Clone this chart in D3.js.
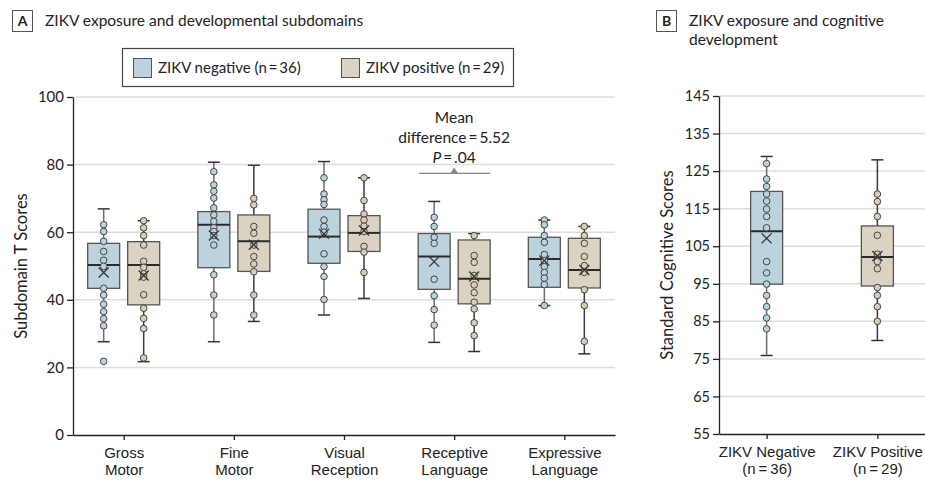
<!DOCTYPE html>
<html>
<head>
<meta charset="utf-8">
<script src="https://cdn.jsdelivr.net/npm/d3@7"></script>
<style>
  body { margin: 0; background: #fff; }
  svg { font-family: Lato, "Noto Sans", sans-serif; }
</style>
</head>
<body>
<div id="chart"></div>
<script>
// Data
// =================================
var categories = ["Gross Motor", "Fine Motor", "Visual Reception", "Receptive Language", "Expressive Language"];
var groups = ["neg", "pos"];

// [low whisker, Q1, median, Q3, high whisker, mean]
var negBox = [
  [27.6, 43.4, 50.3, 56.7, 66.9, 48.1],
  [27.6, 49.5, 62.2, 66.1, 80.7, 59.0],
  [35.5, 50.8, 58.7, 66.8, 80.9, 59.5],
  [27.4, 43.1, 52.8, 59.6, 69.1, 51.3],
  [38.3, 43.7, 52.1, 58.5, 63.6, 51.6]
];
var posBox = [
  [21.7, 38.5, 50.3, 57.2, 63.4, 47.2],
  [33.6, 48.4, 57.3, 65.1, 79.8, 56.3],
  [40.4, 54.3, 59.8, 64.9, 76.1, 60.5],
  [24.7, 38.8, 46.2, 57.7, 59.6, 46.9],
  [24.0, 43.5, 48.8, 58.2, 61.7, 48.8]
];

var negPoints = [
  [62.2, 60.2, 57.3, 54.3, 51.7, 49.9, 43.4, 41.4, 38.7, 36.5, 34.4, 32.3, 21.8],
  [77.9, 74.0, 72.1, 70.1, 67.2, 65.1, 63.2, 61.3, 60.2, 59.0, 56.2, 47.4, 41.4, 35.5],
  [76.1, 71.3, 69.6, 68.2, 63.6, 61.7, 60.0, 53.6, 49.8, 46.9, 40.1],
  [64.4, 61.7, 58.5, 56.7, 46.1, 41.2, 37.1, 32.5],
  [63.6, 62.2, 59.0, 57.0, 53.4, 51.6, 49.8, 48.1, 46.4, 44.5, 38.3]
];
var posPoints = [
  [63.4, 61.3, 59.0, 56.2, 51.4, 49.6, 47.7, 46.7, 41.5, 37.5, 34.5, 31.5, 22.8],
  [70.0, 68.1, 61.7, 59.7, 56.2, 52.8, 50.6, 48.3, 41.4, 35.5],
  [76.1, 69.4, 65.4, 63.6, 61.8, 60.2, 55.8, 54.1, 48.1],
  [59.0, 53.1, 51.1, 47.2, 44.4, 42.1, 39.3, 37.3, 33.2, 29.4],
  [61.7, 59.0, 56.7, 52.8, 50.1, 48.1, 43.0, 38.3, 27.7]
];

var yTicksA = [0, 20, 40, 60, 80, 100];

// panel B
var cogCategories = ["ZIKV Negative|(n\u2009=\u200936)", "ZIKV Positive|(n\u2009=\u200929)"];
var cogNegBox = [75.9, 94.9, 109.0, 119.6, 128.9, 107.1];
var cogPosBox = [79.9, 94.4, 102.1, 110.4, 128.0, 102.4];
var cogNegPoints = [127.0, 122.9, 120.9, 118.9, 117.0, 114.9, 112.9, 109.9, 100.9, 97.9, 94.9, 91.9, 88.9, 85.9, 83.0];
var cogPosPoints = [118.9, 116.9, 112.9, 107.9, 102.9, 100.9, 99.0, 94.0, 91.9, 88.9, 85.0];
var yTicksB = [55, 65, 75, 85, 95, 105, 115, 125, 135, 145];

var legendLabels = ["ZIKV negative (n\u2009=\u200936)", "ZIKV positive (n\u2009=\u200929)"];

// Style
// =================================
var fills = { neg: "#bcd2dc", pos: "#dbd3c2" };
var dotFills = { neg: "#b8d2de", pos: "#d8cdb6" };
var stemColor = { neg: "#6e6e6e", pos: "#3a3a3a" };
var boxW = 32;

var svgWidth = 925;
var svgHeight = 480;

var svg = d3.select("#chart")
  .append("svg")
  .attr("width", svgWidth)
  .attr("height", svgHeight);

// Panel A
// =================================
var marginA = { top: 97, left: 73, right: 310, bottom: 45 };
var wA = svgWidth - marginA.left - marginA.right;
var hA = svgHeight - marginA.top - marginA.bottom;

var gA = svg.append("g").attr("transform", `translate(${marginA.left}, ${marginA.top})`);

var yA = d3.scaleLinear().domain([0, 100]).range([hA, 0]);
var xA = d3.scalePoint().domain(categories).range([0, wA]).padding(0.46);
var xGroup = d3.scaleBand().domain(groups).range([-40, 40]);

// grid
gA.selectAll(".grid")
  .data(yTicksA.slice(1))
  .enter()
  .append("line")
  .attr("x1", 0).attr("x2", wA)
  .attr("y1", d => yA(d)).attr("y2", d => yA(d))
  .attr("stroke", "#dedede")
  .attr("stroke-width", 1.5);

function styleAxis(g) {
  g.select(".domain").attr("stroke", "#222").attr("stroke-width", 1.3);
  g.selectAll(".tick line").attr("stroke", "#222").attr("stroke-width", 1.3);
  g.selectAll("text").attr("fill", "#222").attr("font-family", "Lato, sans-serif");
}

var yAxisA = gA.append("g")
  .call(d3.axisLeft(yA).tickValues(yTicksA).tickSize(6).tickPadding(3).tickSizeOuter(0));
styleAxis(yAxisA);
yAxisA.selectAll("text").attr("font-size", 15);

var xAxisA = gA.append("g")
  .attr("transform", `translate(0, ${hA})`)
  .call(d3.axisBottom(xA).tickSize(5).tickSizeOuter(0));
styleAxis(xAxisA);
xAxisA.selectAll("text").remove();
xAxisA.selectAll(".tick").append("text")
  .attr("fill", "#222")
  .attr("font-size", 15)
  .attr("text-anchor", "middle")
  .selectAll("tspan")
  .data(d => d.split(" "))
  .enter()
  .append("tspan")
  .attr("x", 0)
  .attr("y", (d, i) => 23 + i * 17)
  .text(d => d);

gA.append("text")
  .attr("transform", "rotate(-90)")
  .attr("x", -hA / 2)
  .attr("y", 27 - marginA.left)
  .attr("text-anchor", "middle")
  .attr("font-size", 16.5)
  .attr("fill", "#222")
  .text("Subdomain T Scores");

// draws one box plot centred at cx
function drawBox(g, y, cx, s, pts, grp) {
  var b = g.append("g");
  b.append("line")
    .attr("x1", cx).attr("x2", cx)
    .attr("y1", y(s[0])).attr("y2", y(s[4]))
    .attr("stroke", stemColor[grp]).attr("stroke-width", 1.5);
  [s[0], s[4]].forEach(function(v) {
    b.append("line")
      .attr("x1", cx - 6).attr("x2", cx + 6)
      .attr("y1", y(v)).attr("y2", y(v))
      .attr("stroke", "#333").attr("stroke-width", 1.5);
  });
  b.append("rect")
    .attr("x", cx - boxW / 2)
    .attr("y", y(s[3]))
    .attr("width", boxW)
    .attr("height", y(s[1]) - y(s[3]))
    .attr("fill", fills[grp])
    .attr("stroke", "#555")
    .attr("stroke-width", 1.3);
  b.append("line")
    .attr("x1", cx - boxW / 2).attr("x2", cx + boxW / 2)
    .attr("y1", y(s[2])).attr("y2", y(s[2]))
    .attr("stroke", "#2a2a2a").attr("stroke-width", 2);
  b.selectAll("circle")
    .data(pts)
    .enter()
    .append("circle")
    .attr("cx", cx)
    .attr("cy", d => y(d))
    .attr("r", 3.3)
    .attr("fill", dotFills[grp])
    .attr("stroke", "#444")
    .attr("stroke-width", 1);
  var my = y(s[5]);
  b.append("path")
    .attr("d", `M${cx - 5},${my - 5}L${cx + 5},${my + 5}M${cx - 5},${my + 5}L${cx + 5},${my - 5}`)
    .attr("stroke", "#333")
    .attr("stroke-width", 1.3)
    .attr("fill", "none");
}

categories.forEach(function(c, i) {
  drawBox(gA, yA, xA(c) + xGroup("neg") + xGroup.bandwidth() / 2, negBox[i], negPoints[i], "neg");
  drawBox(gA, yA, xA(c) + xGroup("pos") + xGroup.bandwidth() / 2, posBox[i], posPoints[i], "pos");
});

// annotation above Receptive Language
var ax = xA("Receptive Language");
var annY = yA(77.4);
gA.append("line")
  .attr("x1", ax - 35).attr("x2", ax + 36)
  .attr("y1", annY).attr("y2", annY)
  .attr("stroke", "#888").attr("stroke-width", 1.2);
gA.append("path")
  .attr("d", `M${ax - 4},${annY}L${ax + 4},${annY}L${ax},${annY - 6}Z`)
  .attr("fill", "#888");
var ann = gA.append("text")
  .attr("text-anchor", "middle")
  .attr("font-size", 15.5)
  .attr("fill", "#222");
ann.append("tspan").attr("x", ax).attr("y", annY - 50).text("Mean");
ann.append("tspan").attr("x", ax).attr("y", annY - 30).text("difference\u2009=\u20095.52");
var pLine = ann.append("tspan").attr("x", ax).attr("y", annY - 10);
pLine.append("tspan").attr("font-style", "italic").text("P");
pLine.append("tspan").text("\u2009=\u2009.04");

// legend
var legend = svg.append("g");
legend.append("rect")
  .attr("x", 122.5).attr("y", 48.5)
  .attr("width", 391).attr("height", 38)
  .attr("fill", "#fff")
  .attr("stroke", "#444").attr("stroke-width", 1.2);
var legX = [133, 341];
groups.forEach(function(g, i) {
  legend.append("rect")
    .attr("x", legX[i] + 0.5).attr("y", 58.5)
    .attr("width", 18).attr("height", 19)
    .attr("fill", fills[g])
    .attr("stroke", "#555");
  legend.append("text")
    .attr("x", legX[i] + 25).attr("y", 73)
    .attr("font-size", 15)
    .attr("fill", "#222")
    .text(legendLabels[i]);
});

// panel titles
function panelTitle(x, letter, lines) {
  var t = svg.append("g");
  t.append("rect")
    .attr("x", x + 0.5).attr("y", 10.5)
    .attr("width", 20).attr("height", 21)
    .attr("fill", "#fff")
    .attr("stroke", "#555");
  t.append("text")
    .attr("x", x + 10.5).attr("y", 26)
    .attr("text-anchor", "middle")
    .attr("font-size", 14)
    .attr("font-weight", "bold")
    .attr("fill", "#222")
    .text(letter);
  var txt = t.append("text")
    .attr("font-size", 15.5)
    .attr("fill", "#222");
  lines.forEach(function(l, i) {
    txt.append("tspan")
      .attr("x", x + 33).attr("y", 26 + i * 18.5)
      .text(l);
  });
}
panelTitle(12, "A", ["ZIKV exposure and developmental subdomains"]);
panelTitle(656, "B", ["ZIKV exposure and cognitive", "development"]);

// Panel B
// =================================
var marginB = { top: 96, left: 719, right: 0, bottom: 46 };
var wB = svgWidth - marginB.left - marginB.right;
var hB = svgHeight - marginB.top - marginB.bottom;

var gB = svg.append("g").attr("transform", `translate(${marginB.left}, ${marginB.top})`);

var yB = d3.scaleLinear().domain([55, 145]).range([hB, 0]);
var xB = d3.scalePoint().domain(cogCategories).range([0, wB]).padding(0.43);

gB.selectAll(".grid")
  .data(yTicksB.slice(1))
  .enter()
  .append("line")
  .attr("x1", 0).attr("x2", wB)
  .attr("y1", d => yB(d)).attr("y2", d => yB(d))
  .attr("stroke", "#dedede")
  .attr("stroke-width", 1.5);

var yAxisB = gB.append("g")
  .call(d3.axisLeft(yB).tickValues(yTicksB).tickSize(6).tickPadding(3).tickSizeOuter(0));
styleAxis(yAxisB);
yAxisB.selectAll("text").attr("font-size", 14.5);

var xAxisB = gB.append("g")
  .attr("transform", `translate(0, ${hB})`)
  .call(d3.axisBottom(xB).tickSize(5).tickSizeOuter(0));
styleAxis(xAxisB);
xAxisB.selectAll("text").remove();
xAxisB.selectAll(".tick").append("text")
  .attr("fill", "#222")
  .attr("font-size", 15)
  .attr("text-anchor", "middle")
  .selectAll("tspan")
  .data(d => d.split("|"))
  .enter()
  .append("tspan")
  .attr("x", 0)
  .attr("y", (d, i) => 23 + i * 17)
  .text(d => d);

gB.append("text")
  .attr("transform", "rotate(-90)")
  .attr("x", -hB / 2)
  .attr("y", -46)
  .attr("text-anchor", "middle")
  .attr("font-size", 16.5)
  .attr("fill", "#222")
  .text("Standard Cognitive Scores");

drawBox(gB, yB, xB(cogCategories[0]), cogNegBox, cogNegPoints, "neg");
drawBox(gB, yB, xB(cogCategories[1]), cogPosBox, cogPosPoints, "pos");
</script>
</body>
</html>
